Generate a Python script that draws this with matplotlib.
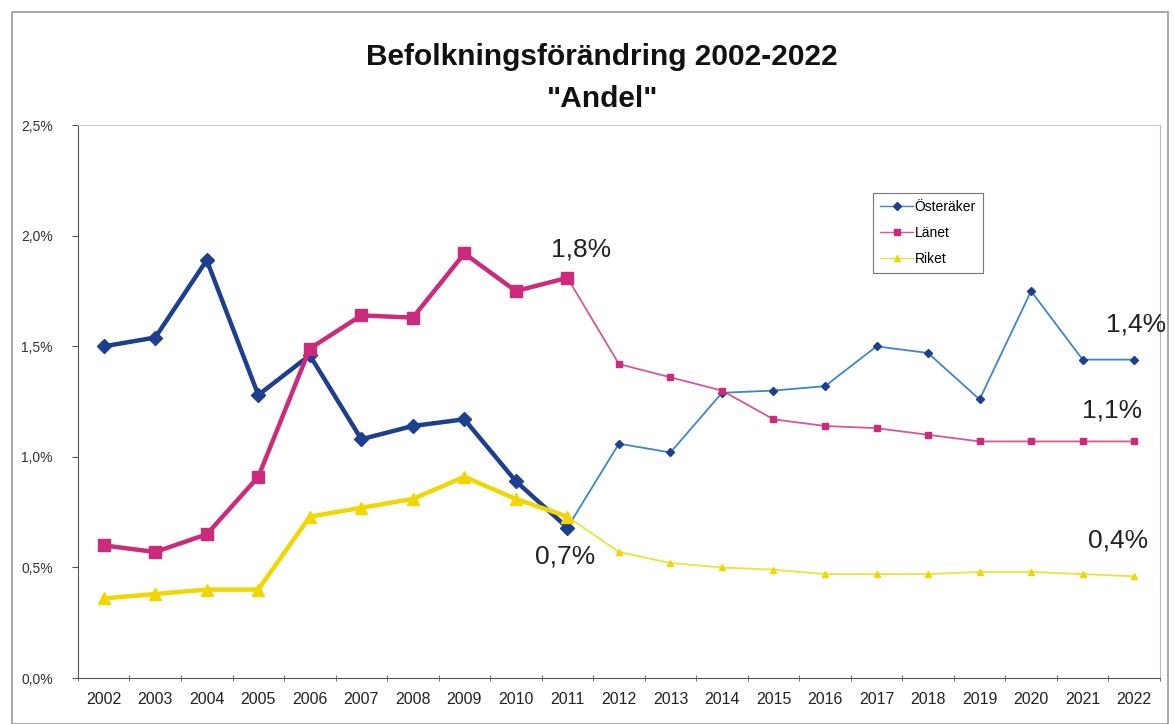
import matplotlib.pyplot as plt
from matplotlib.patches import Rectangle

plt.rcParams['font.family'] = ['Liberation Sans', 'DejaVu Sans']

years = list(range(2002, 2023))
osteraker = [1.50, 1.54, 1.89, 1.28, 1.46, 1.08, 1.14, 1.17, 0.89, 0.68,
             1.06, 1.02, 1.29, 1.30, 1.32, 1.50, 1.47, 1.26, 1.75, 1.44, 1.44]
lanet = [0.60, 0.57, 0.65, 0.91, 1.49, 1.64, 1.63, 1.92, 1.75, 1.81,
         1.42, 1.36, 1.30, 1.17, 1.14, 1.13, 1.10, 1.07, 1.07, 1.07, 1.07]
riket = [0.36, 0.38, 0.40, 0.40, 0.73, 0.77, 0.81, 0.91, 0.81, 0.73,
         0.57, 0.52, 0.50, 0.49, 0.47, 0.47, 0.47, 0.48, 0.48, 0.47, 0.46]

# value labels placed next to the lines
labels = [("1,8%", 9.26, 1.94), ("0,7%", 8.95, 0.55), ("1,4%", 20.04, 1.60),
          ("1,1%", 19.57, 1.21), ("0,4%", 19.69, 0.62)]

series = [
    ("Österäker", osteraker, "#1c3f8f", "#3d86cc", "D", 7.5, 4.5),
    ("Länet", lanet, "#cc2a7a", "#d9559a", "s", 8, 4),
    ("Riket", riket, "#f2d600", "#efe03a", "^", 8.5, 4.5),
]

fig = plt.figure(figsize=(11.74, 7.24), dpi=100)
ax = fig.add_axes([0.0664, 0.0635, 0.9216, 0.7635])

x = list(range(len(years)))
split = 9  # 2011: thick line up to here, thin after

for name, vals, dark, light, mk, ms_big, ms_small in series:
    ax.plot(x[:split + 1], vals[:split + 1], color=dark, lw=3.2, marker=mk,
            ms=ms_big, mfc=dark, mec=dark, zorder=3)
    ax.plot(x[split:], vals[split:], color=light, lw=1.3, zorder=2)
    ax.plot(x[split + 1:], vals[split + 1:], ls='none', marker=mk,
            ms=ms_small, mfc=dark, mec=dark, zorder=3)
    # legend proxy
    ax.plot([], [], color=light, lw=1.0, marker=mk, ms=4, mfc=dark, mec=dark,
            label=name)

for txt, lx, ly in labels:
    ax.text(lx, ly, txt, fontsize=19, ha='center', va='center', color='#222222')

ax.set_xlim(-0.5, len(years) - 0.5)
ax.set_ylim(0, 2.5)
ax.set_yticks([0, 0.5, 1.0, 1.5, 2.0, 2.5])
ax.set_yticklabels(["0,0%", "0,5%", "1,0%", "1,5%", "2,0%", "2,5%"])
ax.set_xticks(x)
ax.set_xticklabels([str(y) for y in years])
ax.set_xticks([i - 0.5 for i in range(len(years) + 1)], minor=True)
ax.tick_params(axis='x', which='major', length=0, labelsize=11.5, pad=10,
               labelcolor='#222222')
ax.tick_params(axis='x', which='minor', length=4, direction='inout', color='#555555')
ax.tick_params(axis='y', length=4, labelsize=10, pad=14, color='#555555',
               labelcolor='#333333')

ax.spines['left'].set_color('#555555')
ax.spines['bottom'].set_color('#555555')
ax.spines['top'].set_color('#cccccc')
ax.spines['right'].set_color('#bbbbbb')

leg = ax.legend(loc='upper left', bbox_to_anchor=(0.735, 0.877), fontsize=10,
                frameon=True, fancybox=False, edgecolor='#555555',
                handlelength=2.4, handletextpad=0.1, labelspacing=0.85,
                borderpad=0.5, borderaxespad=0)
leg.get_frame().set_linewidth(0.8)

fig.text(0.513, 0.921, "Befolkningsförändring 2002-2022", ha='center',
         va='center', fontsize=21.5, fontweight='bold', color='#111111')
fig.text(0.513, 0.863, '"Andel"', ha='center', va='center', fontsize=21.5,
         fontweight='bold', color='#111111')

# outer frame around the whole chart
fig.patches.append(Rectangle((0.010, 0.0), 0.985, 0.983, transform=fig.transFigure,
                             fill=False, edgecolor='#999999', lw=1.2))

fig.savefig("out.png", dpi=100)
